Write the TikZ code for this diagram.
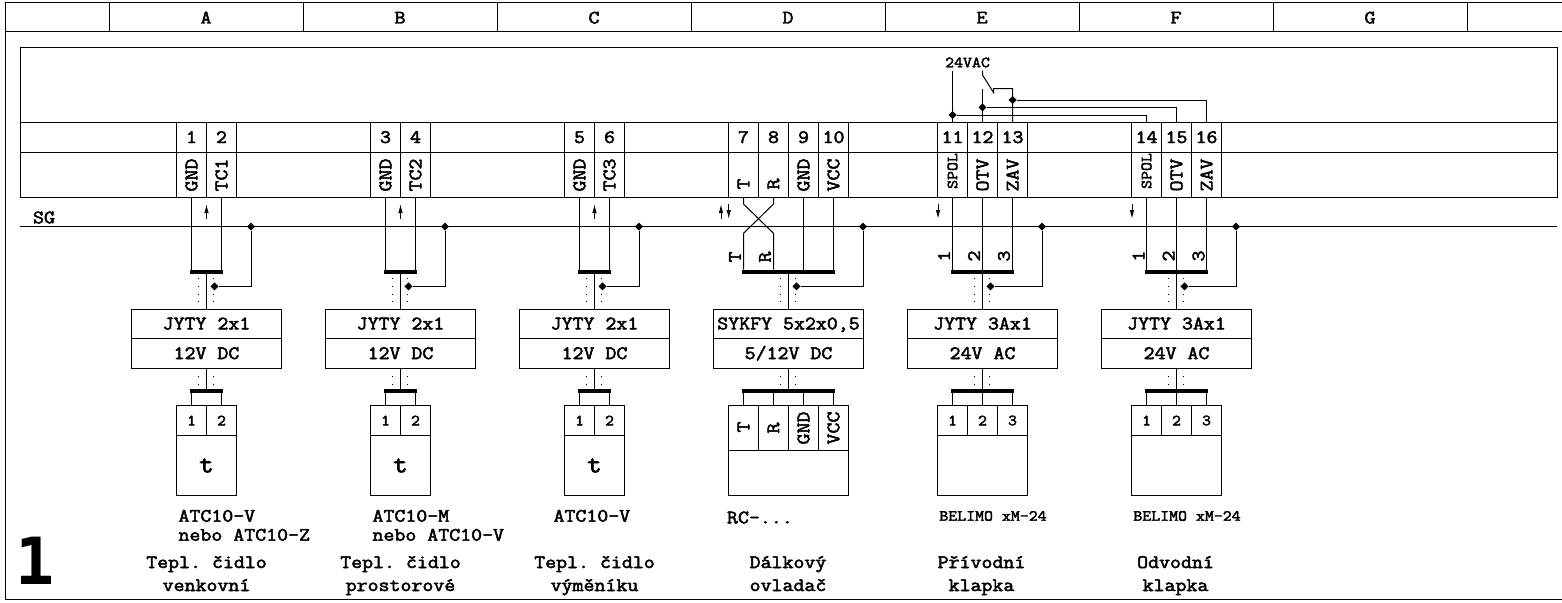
\documentclass[tikz,border=0pt]{standalone}
\usepackage{fontspec}
\setmonofont{Latin Modern Mono}[FakeStretch=1.12,FakeBold=2.6]
\newfontfamily\bigfont{DejaVu Sans Mono}[Scale=1]
\usetikzlibrary{arrows.meta,shapes.geometric}
\tikzset{
	>={Latex[length=9pt,width=4.5pt]},
	big/.style={font=\fontsize{19}{21}\ttfamily\selectfont,inner sep=0pt},
	mid/.style={font=\fontsize{15.5}{18}\ttfamily\selectfont,inner sep=0pt},
	upright/.style={rotate=90},
	line/.style={text height=10pt,text depth=0pt},
	headcell/.style={big,draw,minimum width=194pt,minimum height=29pt,outer sep=0pt,text height=12pt,text depth=0pt},
	termcell/.style={big,draw,minimum width=30pt,minimum height=29.5pt,outer sep=0pt,text height=11pt,text depth=0pt},
	sigcell/.style={draw,minimum width=30pt,minimum height=45pt,outer sep=0pt,inner sep=0pt},
	devcell/.style={mid,draw,minimum width=30pt,minimum height=30pt,outer sep=0pt},
	devtall/.style={sigcell},
	devbody/.style={draw,minimum width=#1,outer sep=0pt,inner sep=0pt},
	cablecell/.style={big,draw,minimum width=150pt,minimum height=29.7pt,outer sep=0pt,text height=11pt,text depth=0pt},
	bus/.style={fill=black,inner sep=0pt,minimum height=4pt,minimum width=#1,outer sep=0pt},
	dot/.style={diamond,fill=black,inner sep=0pt,minimum size=8pt,outer sep=0pt},
	bead/.style={line width=0.9pt,dash pattern=on 1pt off 6.7pt},
}
% one terminal: name, x, number, text, y of the text, style of the text
\newcommand{\terminal}[6]{
	\node[termcell] (t#1) at (#2,137.5) {#3};
	\node[sigcell] (s#1) at (#2,174.5) {};
	\node[#6,upright] (l#1) at (#2,#5) {#4};
}
% one cable: name, x, cable, voltage, x of the SG point, bus width
\newcommand{\cablerun}[6]{
	\node[bus=#6] (bus#1) at (#2,271.5) {};
	\node[cablecell] (cab#1) at (#2,323.85) {#3};
	\node[cablecell] (volt#1) at (#2,353.55) {#4};
	\node[bus=#6] (lbus#1) at (#2,390.5) {};
	\node[dot] (sg#1) at (#5,226.7) {};
	\node[dot] (sh#1) at ({#2+8},286.3) {};
	\draw (sg#1) |- (sh#1);
	\draw (bus#1.south) to (cab#1.north);
	\draw (volt#1.south) to (lbus#1.north);
	\draw [bead,dash phase=2.95pt] ([xshift=-8pt]bus#1.south) to ([xshift=-8pt]bus#1.south |- cab#1.north);
	\draw [bead,dash phase=2.95pt] ([xshift=7pt]bus#1.south) to ([xshift=7pt]bus#1.south |- cab#1.north);
	\draw [bead] ([xshift=-8pt]volt#1.south) to ([xshift=-8pt]volt#1.south |- lbus#1.north);
	\draw [bead] ([xshift=7pt]volt#1.south) to ([xshift=7pt]volt#1.south |- lbus#1.north);
}
% wire from a cell down to a bus, and from a bus down to a cell
\newcommand{\wire}[2]{\draw (s#1.south) to (s#1.south |- bus#2.north);}
\newcommand{\lead}[2]{\draw (#1.north) to (#1.north |- lbus#2.south);}
% small arrow beside the SG line: name, x, direction
\newcommand{\flow}[3]{
	\coordinate (fb#1) at (#2,219);
	\coordinate (ft#1) at (#2,204);
	\draw [#3] (fb#1) to (ft#1);
}
\begin{document}
\begin{tikzpicture}[x=1pt,y=-1pt,line width=1pt]
	\useasboundingbox (0,0) rectangle (1562,602);
	% frame and header
	\draw (1562,3) -- (5,3) -- (5,599.5) -- (1562,599.5);
	\draw (5,32) -- (1562,32);
	\node[headcell] (ha) at (206,17.5) {A};
	\node[headcell] (hb) at (400,17.5) {B};
	\node[headcell] (hc) at (594,17.5) {C};
	\node[headcell] (hd) at (788,17.5) {D};
	\node[headcell] (he) at (982,17.5) {E};
	\node[headcell] (hf) at (1176,17.5) {F};
	\node[headcell] (hg) at (1370,17.5) {G};
	% terminal strip
	\draw (20,47.5) rectangle (1557,197);
	\draw (20,122.5) -- (1557,122.5);
	\draw (20,152) -- (1557,152);
	\coordinate (sgl) at (20,226.7);
	\coordinate (sgr) at (1557,226.7);
	\draw (sgl) -- (sgr);
	\node[big] (sgname) at (44,217.5) {SG};
	%
	\terminal{1}{191.5}{1}{GND}{175}{big}
	\terminal{2}{221.5}{2}{TC1}{175}{big}
	\terminal{3}{385.5}{3}{GND}{175}{big}
	\terminal{4}{415.5}{4}{TC2}{175}{big}
	\terminal{5}{579.5}{5}{GND}{175}{big}
	\terminal{6}{609.5}{6}{TC3}{175}{big}
	\terminal{7}{743.5}{7}{T}{184}{big}
	\terminal{8}{773.5}{8}{R}{184}{big}
	\terminal{9}{803.5}{9}{GND}{175}{big}
	\terminal{10}{833.5}{10}{VCC}{175}{big}
	\terminal{11}{952.5}{11}{SPOL}{171}{mid}
	\terminal{12}{982.5}{12}{OTV}{175}{big}
	\terminal{13}{1012.5}{13}{ZAV}{175}{big}
	\terminal{14}{1146.5}{14}{SPOL}{171}{mid}
	\terminal{15}{1176.5}{15}{OTV}{175}{big}
	\terminal{16}{1206.5}{16}{ZAV}{175}{big}
	% 24 VAC feed
	\node[mid] (vac) at (967.5,62.5) {24VAC};
	\coordinate (vacl) at (952.5,70.5);
	\coordinate (vacm) at (982.5,70.5);
	\coordinate (swa) at (982.5,75);
	\coordinate (swb) at (993.5,92.5);
	\coordinate (swc) at (993.5,88.5);
	\coordinate (swd) at (1012.5,88.5);
	\coordinate (otv) at (982.5,88.5);
	\node[dot] (ja) at (952.5,115) {};
	\node[dot] (jb) at (982.5,107.3) {};
	\node[dot] (jc) at (1012.5,100) {};
	\draw (vacl) to (t11.north);
	\draw (otv) to (t12.north);
	\draw (vacm) -- (swa) -- (swb) -- (swc) -- (swd) -- (t13.north);
	\draw (ja) -| (t14.north);
	\draw (jb) -| (t15.north);
	\draw (jc) -| (t16.north);
	% cables
	\cablerun{a}{206.5}{JYTY 2x1}{12V DC}{251}{33pt}
	\cablerun{b}{400.5}{JYTY 2x1}{12V DC}{445}{33pt}
	\cablerun{c}{594.5}{JYTY 2x1}{12V DC}{639}{33pt}
	\cablerun{d}{788.5}{SYKFY 5x2x0,5}{5/12V DC}{863}{93pt}
	\cablerun{e}{982.5}{JYTY 3Ax1}{24V AC}{1042}{63pt}
	\cablerun{f}{1176.5}{JYTY 3Ax1}{24V AC}{1236}{63pt}
	%
	\wire{1}{a} \wire{2}{a}
	\wire{3}{b} \wire{4}{b}
	\wire{5}{c} \wire{6}{c}
	\wire{9}{d} \wire{10}{d}
	\wire{11}{e} \wire{12}{e} \wire{13}{e}
	\wire{14}{f} \wire{15}{f} \wire{16}{f}
	% crossing of T and R
	\coordinate (xta) at (743.5,204);
	\coordinate (xtb) at (773.5,204);
	\coordinate (xba) at (743.5,233.3);
	\coordinate (xbb) at (773.5,233.3);
	\draw (s7.south) -- (xta) -- (xbb) -- (xbb |- busd.north);
	\draw (s8.south) -- (xtb) -- (xba) -- (xba |- busd.north);
	%
	\flow{a}{206.5}{->}
	\flow{b}{400.5}{->}
	\flow{c}{594.5}{->}
	\flow{du}{721}{->}
	\flow{dd}{728.7}{<-}
	\flow{e}{938}{<-}
	\flow{f}{1132}{<-}
	% wire names above the buses
	\node[big,upright] (wt) at (735,257) {T};
	\node[big,upright] (wr) at (765,257) {R};
	\node[big,upright] (wea) at (944,256) {1};
	\node[big,upright] (web) at (974,256) {2};
	\node[big,upright] (wec) at (1004,256) {3};
	\node[big,upright] (wfa) at (1138.5,256) {1};
	\node[big,upright] (wfb) at (1168.5,256) {2};
	\node[big,upright] (wfc) at (1198.5,256) {3};
	% sensors
	\node[devcell] (da1) at (191.5,420.5) {1};
	\node[devcell] (da2) at (221.5,420.5) {2};
	\node[devbody=60pt,minimum height=60pt,font=\fontsize{25}{27}\ttfamily\selectfont] (da) at (206.5,465.5) {t};
	\node[devcell] (db1) at (385.5,420.5) {1};
	\node[devcell] (db2) at (415.5,420.5) {2};
	\node[devbody=60pt,minimum height=60pt,font=\fontsize{25}{27}\ttfamily\selectfont] (db) at (400.5,465.5) {t};
	\node[devcell] (dc1) at (579.5,420.5) {1};
	\node[devcell] (dc2) at (609.5,420.5) {2};
	\node[devbody=60pt,minimum height=60pt,font=\fontsize{25}{27}\ttfamily\selectfont] (dc) at (594.5,465.5) {t};
	% remote control
	\node[devtall] (dd1) at (743.5,428) {};
	\node[devtall] (dd2) at (773.5,428) {};
	\node[devtall] (dd3) at (803.5,428) {};
	\node[devtall] (dd4) at (833.5,428) {};
	\node[big,upright] (ld1) at (743.5,427) {T};
	\node[big,upright] (ld2) at (773.5,428) {R};
	\node[big,upright] (ld3) at (803.5,428) {GND};
	\node[big,upright] (ld4) at (833.5,428) {VCC};
	\node[devbody=120pt,minimum height=45pt] (dd) at (788.5,473) {};
	% dampers
	\node[devcell] (de1) at (952.5,420.5) {1};
	\node[devcell] (de2) at (982.5,420.5) {2};
	\node[devcell] (de3) at (1012.5,420.5) {3};
	\node[devbody=90pt,minimum height=60pt] (de) at (982.5,465.5) {};
	\node[devcell] (df1) at (1146.5,420.5) {1};
	\node[devcell] (df2) at (1176.5,420.5) {2};
	\node[devcell] (df3) at (1206.5,420.5) {3};
	\node[devbody=90pt,minimum height=60pt] (df) at (1176.5,465.5) {};
	%
	\lead{da1}{a} \lead{da2}{a}
	\lead{db1}{b} \lead{db2}{b}
	\lead{dc1}{c} \lead{dc2}{c}
	\lead{dd1}{d} \lead{dd2}{d} \lead{dd3}{d} \lead{dd4}{d}
	\lead{de1}{e} \lead{de2}{e} \lead{de3}{e}
	\lead{df1}{f} \lead{df2}{f} \lead{df3}{f}
	% types
	\node[big,line,anchor=west] (ta1) at (178,516.7) {ATC10-V};
	\node[big,line,anchor=west] (ta2) at (178,535.7) {nebo ATC10-Z};
	\node[big,line,anchor=west] (tb1) at (372,516.7) {ATC10-M};
	\node[big,line,anchor=west] (tb2) at (372,535.7) {nebo ATC10-V};
	\node[big,line,anchor=west] (tc1) at (553,516.7) {ATC10-V};
	\node[big,line,anchor=west] (td1) at (726.5,518.3) {RC-...};
	\node[mid,line] (te1) at (993,515.7) {BELIMO xM-24};
	\node[mid,line] (tf1) at (1187,515.7) {BELIMO xM-24};
	% captions
	\node[big,line] (ca1) at (206.5,563) {Tepl. čidlo};
	\node[big,line] (ca2) at (206.5,586) {venkovní};
	\node[big,line] (cb1) at (400.5,563) {Tepl. čidlo};
	\node[big,line] (cb2) at (400.5,586) {prostorové};
	\node[big,line] (cc1) at (594.5,563) {Tepl. čidlo};
	\node[big,line] (cc2) at (594.5,586) {výměníku};
	\node[big,line] (cd1) at (788,563) {Dálkový};
	\node[big,line] (cd2) at (788,586) {ovladač};
	\node[big,line] (ce1) at (981.5,563) {Přívodní};
	\node[big,line] (ce2) at (981.5,586) {klapka};
	\node[big,line] (cf1) at (1175.5,563) {Odvodní};
	\node[big,line] (cf2) at (1175.5,586) {klapka};
	%
	\node[font=\fontsize{65}{65}\bigfont\bfseries\selectfont,inner sep=0pt] (sheet) at (35,561) {1};
\end{tikzpicture}
\end{document}
